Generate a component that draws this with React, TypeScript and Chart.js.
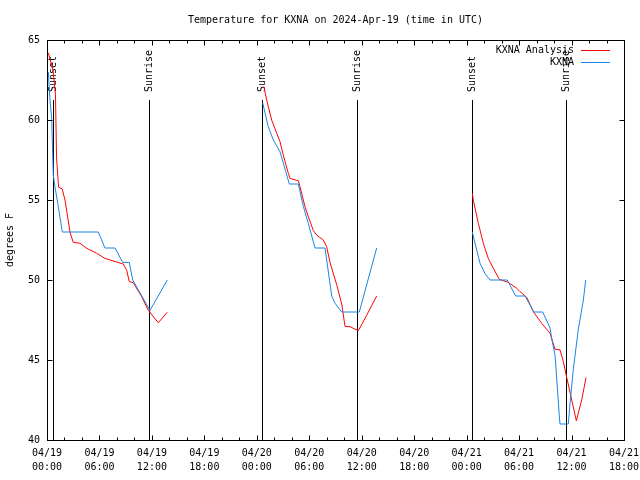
import React, { useEffect, useRef } from 'react';
import { Chart, registerables } from 'chart.js';

Chart.register(...registerables);

const FONT = '"DejaVu Sans Mono", "Liberation Mono", monospace';

// Hours since 04/19 00:00 UTC; null temperature = break between nights
const analysisHours = [
  0.15, 0.69, 0.97, 1.09, 1.32, 1.73, 2.06, 2.63, 3.0, 3.77, 4.54, 5.69, 6.63, 7.21, 8.73, 9.12, 9.41, 9.87, 10.83, 11.59, 12.73, 13.76,
  20,
  24.82, 25.13, 25.7, 26.28, 26.65, 27.03, 27.6, 27.8, 28.75, 28.94, 29.51, 29.89, 30.46, 30.85, 31.61, 31.99, 32.37, 33.14, 33.71, 34.09, 34.66, 35.61, 36.57, 37.71,
  44,
  48.65, 48.76, 49.34, 49.91, 50.48, 51.05, 51.74, 52.77, 53.73, 54.11, 54.87, 55.63, 56.59, 57.54, 58.11, 58.68, 59.06, 59.45, 60.02, 60.55, 61.16, 61.66,
];
const analysisTemps = [
  64.2, 63.1, 61.6, 57.7, 55.8, 55.7, 55.0, 53.0, 52.35, 52.3, 51.98, 51.67, 51.35, 51.25, 51.0, 50.6, 49.9, 49.83, 48.96, 48.1, 47.33, 47.98,
  null,
  62.08, 61.25, 60.0, 59.17, 58.65, 57.8, 56.67, 56.35, 56.2, 55.83, 54.58, 53.96, 53.1, 52.8, 52.5, 52.08, 51.1, 49.7, 48.5, 47.1, 47.08, 46.83, 47.8, 49.0,
  null,
  55.42, 55.0, 53.54, 52.29, 51.35, 50.73, 50.04, 49.85, 49.48, 49.27, 48.92, 48.02, 47.29, 46.67, 45.67, 45.63, 44.9, 43.9, 42.5, 41.2, 42.5, 43.9,
];

const obsHours = [
  0.15, 0.34, 0.54, 0.65, 0.72, 0.92, 1.29, 1.75, 5.87, 6.63, 7.78, 8.66, 9.41, 9.8, 11.78, 13.76,
  20,
  24.67, 25.31, 25.89, 26.65, 27.03, 27.72, 28.75, 29.32, 29.89, 30.66, 31.8, 32.57, 32.94, 33.71, 35.72, 37.71,
  44,
  48.65, 48.96, 49.53, 50.1, 50.67, 52.65, 53.6, 54.68, 55.7, 56.7, 57.54, 57.73, 58.11, 58.35, 58.6, 58.68, 59.63, 59.83, 60.2, 60.77, 61.35, 61.62,
];
const obsTemps = [
  63.0, 61.25, 60.1, 57.8, 56.56, 55.8, 54.6, 53.0, 53.0, 52.0, 52.0, 51.1, 51.1, 50.0, 48.1, 50.0,
  null,
  61.08, 59.58, 58.75, 58.02, 57.3, 56.0, 56.0, 54.6, 53.54, 52.0, 52.0, 49.0, 48.55, 48.0, 48.0, 52.0,
  null,
  53.0, 52.3, 51.05, 50.4, 50.0, 50.0, 49.0, 49.0, 48.0, 48.0, 47.0, 46.35, 45.3, 43.5, 41.5, 41.0, 41.0, 42.3, 44.4, 46.9, 48.75, 50.0,
];

const xTickDates = ['04/19', '04/19', '04/19', '04/19', '04/20', '04/20', '04/20', '04/20', '04/21', '04/21', '04/21', '04/21'];
const xTickTimes = ['00:00', '06:00', '12:00', '18:00', '00:00', '06:00', '12:00', '18:00', '00:00', '06:00', '12:00', '18:00'];

const sunHours = [0.69, 11.67, 24.59, 35.46, 48.62, 59.37];
const sunLabels = ['Sunset', 'Sunrise', 'Sunset', 'Sunrise', 'Sunset', 'Sunrise'];

const SUN_LINE_TOP = 61.25;
const SUN_LABEL_BASE = 61.75;

const App = () => {
  const ref = useRef<HTMLCanvasElement>(null);

  useEffect(() => {
    const canvas = ref.current;
    if (!canvas) return;
    const pts = (xs: number[], ys: (number | null)[]) => xs.map((x, i) => ({ x, y: ys[i] }));

    const decor = {
      id: 'decor',
      beforeDatasetsDraw(chart: any) {
        const { ctx, chartArea: a, scales } = chart;
        const xs = scales.x;
        const ys = scales.y;
        ctx.save();
        ctx.strokeStyle = '#000';
        ctx.fillStyle = '#000';
        ctx.lineWidth = 1;
        ctx.font = `10px ${FONT}`;
        sunHours.forEach((h, i) => {
          const px = Math.round(xs.getPixelForValue(h)) + 0.5;
          const top = Math.round(ys.getPixelForValue(SUN_LINE_TOP));
          ctx.beginPath();
          ctx.moveTo(px, top);
          ctx.lineTo(px, a.bottom);
          ctx.stroke();
          ctx.save();
          ctx.translate(px, ys.getPixelForValue(SUN_LABEL_BASE));
          ctx.rotate(-Math.PI / 2);
          ctx.textAlign = 'left';
          ctx.textBaseline = 'middle';
          ctx.fillText(sunLabels[i], 0, 0);
          ctx.restore();
        });
        ctx.restore();
      },
      afterDraw(chart: any) {
        const { ctx, chartArea: a, scales } = chart;
        const xs = scales.x;
        const ys = scales.y;
        ctx.save();
        ctx.strokeStyle = '#000';
        ctx.lineWidth = 1;
        const L = Math.round(a.left) + 0.5;
        const R = Math.round(a.right) + 0.5;
        const T = Math.round(a.top) + 0.5;
        const B = Math.round(a.bottom) + 0.5;
        ctx.strokeRect(L, T, R - L, B - T);
        ctx.beginPath();
        for (let h = xs.min; h <= xs.max + 1e-6; h += 2) {
          const px = Math.round(xs.getPixelForValue(h)) + 0.5;
          const len = h % 6 === 0 ? 5 : 3;
          ctx.moveTo(px, B);
          ctx.lineTo(px, B - len);
          ctx.moveTo(px, T);
          ctx.lineTo(px, T + len);
        }
        ys.ticks.forEach((t: any) => {
          const py = Math.round(ys.getPixelForValue(t.value)) + 0.5;
          ctx.moveTo(L, py);
          ctx.lineTo(L + 5, py);
          ctx.moveTo(R, py);
          ctx.lineTo(R - 5, py);
        });
        ctx.stroke();

        // legend (gnuplot style: text right-aligned, sample line to the right)
        ctx.font = `10px ${FONT}`;
        ctx.fillStyle = '#000';
        ctx.textAlign = 'right';
        ctx.textBaseline = 'middle';
        chart.data.datasets.forEach((ds: any, i: number) => {
          const y = Math.round(a.top + 9.5 + i * 12.5) + 0.5;
          ctx.fillText(ds.label, a.right - 50, y);
          ctx.strokeStyle = ds.borderColor;
          ctx.beginPath();
          ctx.moveTo(a.right - 43, y);
          ctx.lineTo(a.right - 14, y);
          ctx.stroke();
        });
        ctx.restore();
      },
    };

    const chart = new Chart(canvas, {
      type: 'line',
      data: {
        datasets: [
          {
            label: 'KXNA Analysis',
            data: pts(analysisHours, analysisTemps),
            borderColor: '#ff0000',
            borderWidth: 1,
            pointRadius: 0,
            tension: 0,
            spanGaps: false,
            order: 1,
          },
          {
            label: 'KXNA',
            data: pts(obsHours, obsTemps),
            borderColor: '#1a85e6',
            borderWidth: 1,
            pointRadius: 0,
            tension: 0,
            spanGaps: false,
            order: 0,
          },
        ],
      },
      options: {
        responsive: false,
        animation: false,
        layout: { padding: { left: 0, right: 16, top: 0, bottom: 0 } },
        plugins: {
          legend: { display: false },
          tooltip: { enabled: false },
          title: {
            display: true,
            text: 'Temperature for KXNA on 2024-Apr-19 (time in UTC)',
            color: '#000',
            fullSize: false,
            font: { family: FONT, size: 10, weight: 'normal', lineHeight: 1.2 },
            padding: { top: 14, bottom: 14 },
          },
        },
        scales: {
          x: {
            type: 'linear',
            min: 0,
            max: 66,
            afterFit: (s: any) => {
              s.height = 40;
              s.paddingLeft = 0;
              s.paddingRight = 0;
            },
            ticks: {
              stepSize: 6,
              autoSkip: false,
              maxRotation: 0,
              padding: 6,
              color: '#000',
              font: { family: FONT, size: 10, lineHeight: 1.4 },
              callback: (v: any) => {
                const i = Math.round(Number(v) / 6);
                return [xTickDates[i], xTickTimes[i]];
              },
            },
            grid: { display: false, drawTicks: false },
            border: { display: false },
          },
          y: {
            min: 40,
            max: 65,
            afterFit: (s: any) => {
              s.width = 47;
              s.paddingTop = 0;
              s.paddingBottom = 0;
            },
            ticks: {
              stepSize: 5,
              padding: 7,
              color: '#000',
              font: { family: FONT, size: 10 },
            },
            title: {
              display: true,
              text: 'degrees F',
              color: '#000',
              font: { family: FONT, size: 10, lineHeight: 1.2 },
              padding: { top: 4, bottom: 0 },
            },
            grid: { display: false, drawTicks: false },
            border: { display: false },
          },
        },
      },
      plugins: [decor],
    });
    return () => chart.destroy();
  }, []);

  return (
    <div style={{ position: 'absolute', left: 0, top: 0, width: 640, height: 480, background: '#fff' }}>
      <canvas ref={ref} width={640} height={480} style={{ display: 'block' }} />
    </div>
  );
};

export default App;
